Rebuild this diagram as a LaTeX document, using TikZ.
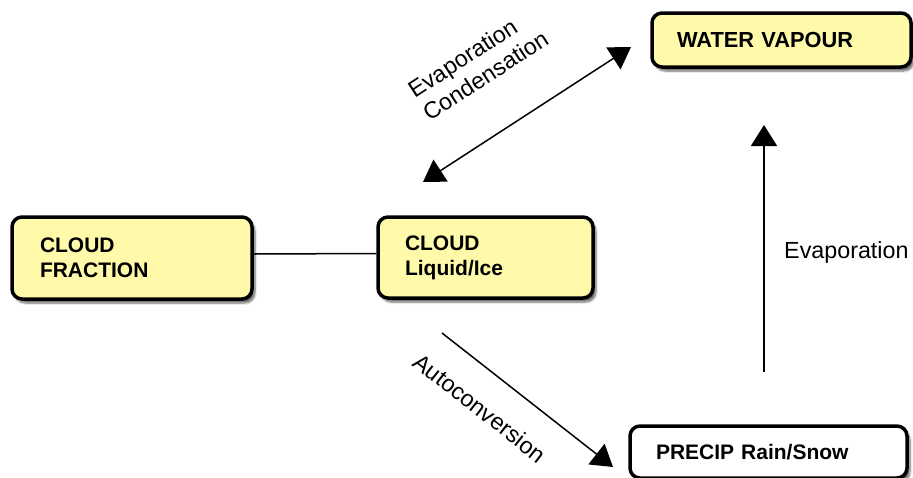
\documentclass[tikz,border=0pt]{standalone}
\usepackage{fontspec}
\setmainfont{Liberation Sans}
\usetikzlibrary{arrows.meta,shadows.blur}
\definecolor{boxyellow}{HTML}{FFFAAA}
\begin{document}
\begin{tikzpicture}[x=1pt,y=-1pt,
  box/.style={draw=black, line width=3.5pt, rounded corners=10pt, fill=boxyellow,
    blur shadow={shadow xshift=3pt, shadow yshift=-4pt, shadow blur steps=6, shadow opacity=60},
    font=\bfseries\fontsize{21}{25}\selectfont, align=left, inner xsep=0pt, inner ysep=0pt},
  lab/.style={font=\fontsize{23.3}{27}\selectfont, align=left, inner sep=0pt},
  arr/.style={line width=1.5pt, -{Triangle[length=21pt,width=26pt]}},
  darr/.style={line width=1.5pt, {Triangle[length=21pt,width=26pt]}-{Triangle[length=21pt,width=26pt]}},
  link/.style={line width=1.5pt}]
\useasboundingbox (0,0) rectangle (913,477);

\node[box, minimum width=259pt, minimum height=54pt, text width=209pt, font=\bfseries\fontsize{21.8}{25}\selectfont] (wv) at (781.5,40) {WATER VAPOUR};
\node[box, minimum width=240pt, minimum height=82pt, text width=184pt] (cf) at (132,258) {CLOUD\\FRACTION};
\node[box, minimum width=215pt, minimum height=81pt, text width=161pt] (cl) at (485.5,257.5) {CLOUD\\Liquid/Ice};
\node[box, fill=white, minimum width=277pt, minimum height=52pt, text width=225pt] (pr) at (768.5,452) {PRECIP Rain/Snow};

\draw[link] ([yshift=4pt]cf.east) -- ([yshift=4pt]cl.west);

\coordinate (ec1) at (423,182);
\coordinate (ec2) at (631,47);
\draw[darr] (ec1) -- (ec2);
\node[lab, rotate=33] (lec) at (478,64) {Evaporation\\Condensation};

\coordinate (ac1) at (442,333);
\coordinate (ac2) at (613,467);
\draw[arr] (ac1) -- (ac2);
\node[lab, rotate=-38] (lac) at (480,408) {Autoconversion};

\coordinate (ev1) at (764,372);
\coordinate (ev2) at (764,125);
\draw[arr] (ev1) -- (ev2);
\node[lab, anchor=base west] (lev) at (784,258) {Evaporation};
\end{tikzpicture}
\end{document}
